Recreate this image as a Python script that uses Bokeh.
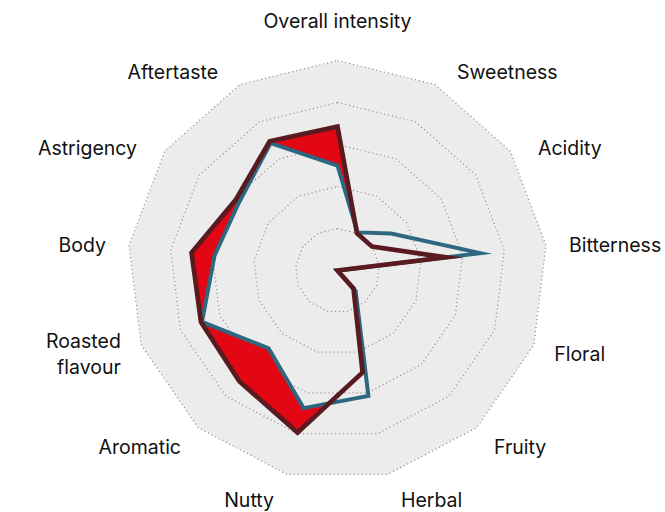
import numpy as np
from bokeh.plotting import figure
from bokeh.models import Range1d, ColumnDataSource
from bokeh.embed import file_html
from bokeh.resources import INLINE
from bokeh.core.properties import value

# ---------------- data ----------------
categories = ["Overall intensity", "Sweetness", "Acidity", "Bitterness", "Floral",
              "Fruity", "Herbal", "Nutty", "Aromatic", "Roasted\nflavour", "Body",
              "Astrigency", "Aftertaste"]
sample_red = [6.85, 2.0, 2.0, 5.2, 0.0, 1.15, 5.0, 7.95, 7.05, 6.95, 7.0, 5.9, 6.95]
sample_blue = [5.0, 2.05, 3.1, 6.85, 0.0, 1.3, 6.15, 6.75, 4.95, 6.9, 5.9, 5.7, 6.85]
grid_levels = [2, 4, 6, 8, 10]
max_value = 10

# ---------------- layout ----------------
W, H = 665, 512
CX, CY = 337, 270
R = 210

p = figure(width=W, height=H, x_range=Range1d(0, W), y_range=Range1d(H, 0),
           output_backend="svg", toolbar_location=None, min_border=0)
p.axis.visible = False
p.grid.visible = False
p.outline_line_color = None
p.background_fill_color = "white"
p.border_fill_color = "white"

n = len(categories)
theta = np.arange(n) * 2 * np.pi / n
sn, cs = np.sin(theta), np.cos(theta)


def xy(vals):
    r = np.asarray(vals, float) / max_value * R
    return CX + r * sn, CY - r * cs


# background polygon
gx, gy = xy([max_value] * n)
p.patch(list(gx), list(gy), fill_color="#ececec", line_color=None)

# grid rings
for lev in grid_levels:
    gx, gy = xy([lev] * n)
    p.patch(list(gx), list(gy), fill_color=None, line_color="#858585",
            line_width=1.2, line_dash="1 3")

# red region: inside red series, outside blue series
rx, ry = xy(sample_red)
bx, by = xy(sample_blue)
diff = np.array(sample_red) - np.array(sample_blue)
start = 4
order = [(start + i) % n for i in range(n)]
inner = []
for k in order:
    j = (k + 1) % n
    if diff[k] > 0:
        inner.append((bx[k], by[k]))
    else:
        inner.append((rx[k], ry[k]))
    if diff[k] * diff[j] < 0:
        p1 = np.array([rx[k], ry[k]]); p2 = np.array([rx[j], ry[j]])
        q1 = np.array([bx[k], by[k]]); q2 = np.array([bx[j], by[j]])
        d1 = p2 - p1; d2 = q2 - q1
        den = d1[0] * d2[1] - d1[1] * d2[0]
        w = q1 - p1
        t = (w[0] * d2[1] - w[1] * d2[0]) / den
        inner.append(tuple(p1 + t * d1))
outer = [(rx[k], ry[k]) for k in order] + [(rx[start], ry[start])]
path = outer + inner[::-1]
p.patch([q[0] for q in path], [q[1] for q in path], fill_color="#e30613",
        line_color=None)

# series outlines
p.patch(list(bx), list(by), fill_color=None, line_color="#2e6880",
        line_width=4, line_join="miter")
p.patch(list(rx), list(ry), fill_color=None, line_color="#5a1b20",
        line_width=4.7, line_join="miter")

# labels
lab_r = 236
up = np.clip(cs, 0, None)
lx = CX + lab_r * sn + 11 * np.sign(sn) * up
lx = lx + 7 * np.sign(sn) * (cs < -0.9) - 4 * np.sign(sn) * ((cs > -0.5) & (cs < 0.2))
ly = CY - lab_r * cs + 25 * np.abs(sn) * up
aligns = []
for i in range(n):
    if abs(sn[i]) < 0.05:
        aligns.append("center")
        ly[i] = CY - 250 * cs[i]
    elif sn[i] > 0:
        aligns.append("left")
    else:
        aligns.append("right")

for al in ["left", "right", "center"]:
    idx = [i for i in range(n) if aligns[i] == al]
    src = ColumnDataSource(dict(x=[lx[i] for i in idx], y=[ly[i] for i in idx],
                                t=[categories[i] for i in idx]))
    p.text(x="x", y="y", text="t", source=src, text_align=al,
           text_baseline="middle", text_font=value("Inter"),
           text_font_size="19.5px", text_color="#111111", text_line_height=1.1)

open("out.html", "w").write(file_html(p, INLINE))
